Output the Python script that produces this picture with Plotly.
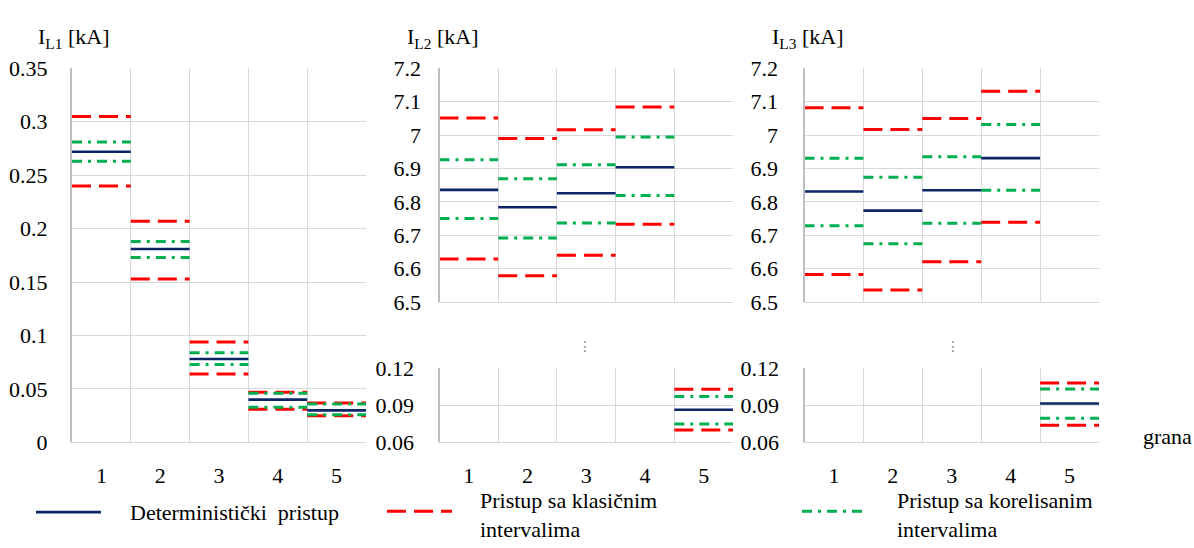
import plotly.graph_objects as go

# ---------------- data ----------------
categories = [1, 2, 3, 4, 5]

il1_det = [0.272, 0.181, 0.078, 0.040, 0.030]
il1_kl_up = [0.305, 0.207, 0.094, 0.047, 0.037]
il1_kl_lo = [0.240, 0.153, 0.064, 0.031, 0.025]
il1_kor_up = [0.281, 0.188, 0.084, 0.046, 0.036]
il1_kor_lo = [0.263, 0.173, 0.073, 0.033, 0.026]

il2_det = [6.836, 6.784, 6.826, 6.904, 0.0863]
il2_kl_up = [7.051, 6.990, 7.016, 7.084, 0.1029]
il2_kl_lo = [6.629, 6.579, 6.640, 6.733, 0.0700]
il2_kor_up = [6.926, 6.869, 6.911, 6.994, 0.0970]
il2_kor_lo = [6.750, 6.692, 6.737, 6.819, 0.0748]

il3_det = [6.831, 6.774, 6.835, 6.931, 0.0914]
il3_kl_up = [7.082, 7.017, 7.050, 7.131, 0.1079]
il3_kl_lo = [6.583, 6.536, 6.621, 6.739, 0.0739]
il3_kor_up = [6.931, 6.874, 6.935, 7.032, 0.1030]
il3_kor_lo = [6.729, 6.675, 6.736, 6.835, 0.0795]

il1_ticks = [0, 0.05, 0.1, 0.15, 0.2, 0.25, 0.3, 0.35]
il1_ticktext = ["0", "0.05", "0.1", "0.15", "0.2", "0.25", "0.3", "0.35"]
top_ticks = [6.5, 6.6, 6.7, 6.8, 6.9, 7.0, 7.1, 7.2]
top_ticktext = ["6.5", "6.6", "6.7", "6.8", "6.9", "7", "7.1", "7.2"]
bot_ticks = [0.06, 0.09, 0.12]
bot_ticktext = ["0.06", "0.09", "0.12"]

series_names = ["Deterministički\u00a0\u00a0pristup",
                "Pristup sa klasičnim<br>intervalima",
                "Pristup sa korelisanim<br>intervalima"]
x_title = "grana"
panel_titles = ["I<sub>L1</sub> [kA]", "I<sub>L2</sub> [kA]", "I<sub>L3</sub> [kA]"]

# ---------------- styles ----------------
W, H = 1194, 548
FONT = "Liberation Serif"
FS = 22
BLUE = "#0b2566"
RED = "#ff0000"
GREEN = "#00b050"
GRID = "#d9d9d9"
AXIS = "#bfbfbf"
RED_DASH = "19px,8px"
GREEN_DASH = "10px,6px,3px,6px"

def px_x(a, b):
    return [a / W, b / W]

def px_y(top, bottom):
    return [1 - bottom / H, 1 - top / H]

def segs(vals):
    xs, ys = [], []
    for c, v in zip(categories, vals):
        xs += [c - 0.5, c + 0.5, None]
        ys += [v, v, None]
    return xs, ys

fig = go.Figure()

panels = [
    ((il1_det, il1_kl_up, il1_kl_lo, il1_kor_up, il1_kor_lo), [("x", "y")]),
    ((il2_det, il2_kl_up, il2_kl_lo, il2_kor_up, il2_kor_lo), [("x2", "y2"), ("x3", "y3")]),
    ((il3_det, il3_kl_up, il3_kl_lo, il3_kor_up, il3_kor_lo), [("x4", "y4"), ("x5", "y5")]),
]

for (det, kup, klo, cup, clo), axes in panels:
    for xa, ya in axes:
        for vals, color, dash, w in [
            (kup, RED, RED_DASH, 3), (klo, RED, RED_DASH, 3),
            (cup, GREEN, GREEN_DASH, 3), (clo, GREEN, GREEN_DASH, 3),
            (det, BLUE, "solid", 2.6),
        ]:
            xs, ys = segs(vals)
            fig.add_trace(go.Scatter(x=xs, y=ys, mode="lines", xaxis=xa, yaxis=ya,
                                     line=dict(color=color, width=w, dash=dash),
                                     showlegend=False, hoverinfo="skip",
                                     connectgaps=False))

def xaxis_cfg(domain, anchor, labels):
    return dict(domain=domain, anchor=anchor, range=[0.5, 5.5],
                tickvals=categories, ticktext=[str(c) for c in categories],
                showticklabels=labels, showgrid=False, zeroline=False,
                ticks="", ticklabelstandoff=13,
                showline=True, linecolor=GRID, linewidth=1,
                minor=dict(tickvals=[0.5, 1.5, 2.5, 3.5, 4.5, 5.5], showgrid=True,
                           gridcolor=GRID, gridwidth=1, ticks=""),
                tickfont=dict(family=FONT, size=FS, color="black"), fixedrange=True)

def yaxis_cfg(domain, anchor, rng, tv, tt, standoff):
    return dict(domain=domain, anchor=anchor, range=rng, tickvals=tv, ticktext=tt,
                showgrid=True, gridcolor=GRID, gridwidth=1, zeroline=False,
                showline=True, linecolor=AXIS, linewidth=2, ticks="",
                ticklabelstandoff=standoff,
                tickfont=dict(family=FONT, size=FS, color="black"), fixedrange=True)

X1 = px_x(72, 366)
X2 = px_x(439.5, 733)
X3 = px_x(804.5, 1099)
YFULL = px_y(59, 451)
YTOP = px_y(59, 304)
YBOT = px_y(373, 451)

fig.update_layout(
    width=W, height=H, margin=dict(l=0, r=0, t=0, b=0),
    paper_bgcolor="white", plot_bgcolor="white", showlegend=False,
    font=dict(family=FONT, size=FS, color="black"),
    xaxis=xaxis_cfg(X1, "y", True),
    yaxis=yaxis_cfg(YFULL, "x", [0, 0.35], il1_ticks, il1_ticktext, 18),
    xaxis2=xaxis_cfg(X2, "y2", False),
    yaxis2=yaxis_cfg(YTOP, "x2", [6.5, 7.2], top_ticks, top_ticktext, 12),
    xaxis3=xaxis_cfg(X2, "y3", True),
    yaxis3=yaxis_cfg(YBOT, "x3", [0.06, 0.12], bot_ticks, bot_ticktext, 19),
    xaxis4=xaxis_cfg(X3, "y4", False),
    yaxis4=yaxis_cfg(YTOP, "x4", [6.5, 7.2], top_ticks, top_ticktext, 20),
    xaxis5=xaxis_cfg(X3, "y5", True),
    yaxis5=yaxis_cfg(YBOT, "x5", [0.06, 0.12], bot_ticks, bot_ticktext, 19),
)

ann = []
for t, xl in zip(panel_titles, [36, 405, 770]):
    ann.append(dict(text=t, x=xl / W, y=1 - 27 / H, xref="paper", yref="paper",
                    xanchor="left", yanchor="middle", showarrow=False,
                    font=dict(family=FONT, size=FS, color="black")))
for xc in [585, 953]:
    ann.append(dict(text="⋮", x=xc / W, y=1 - 350 / H, xref="paper", yref="paper",
                    xanchor="center", yanchor="middle", showarrow=False,
                    font=dict(family="DejaVu Sans", size=14, color="#808080")))
ann.append(dict(text=x_title, x=1141 / W, y=1 - 445 / H, xref="paper", yref="paper",
                xanchor="left", yanchor="middle", showarrow=False,
                font=dict(family=FONT, size=FS, color="black")))

legend_items = [
    (series_names[0], BLUE, "solid", 2.6, 36, 101, 524, 128, 524),
    (series_names[1], RED, RED_DASH, 3, 387, 452, 523, 478, 527),
    (series_names[2], GREEN, GREEN_DASH, 3, 802, 865, 523, 895, 527),
]
shapes = []
for name, color, dash, w, x0, x1, ys, xt, yt in legend_items:
    shapes.append(dict(type="line", xref="paper", yref="paper",
                       x0=x0 / W, x1=x1 / W, y0=1 - ys / H, y1=1 - ys / H,
                       line=dict(color=color, width=w, dash=dash)))
    ann.append(dict(text=name, x=xt / W, y=1 - yt / H, xref="paper", yref="paper",
                    xanchor="left", yanchor="middle", align="left", showarrow=False,
                    font=dict(family=FONT, size=FS, color="black")))

fig.update_layout(annotations=ann, shapes=shapes)
fig.write_html("out.html")
